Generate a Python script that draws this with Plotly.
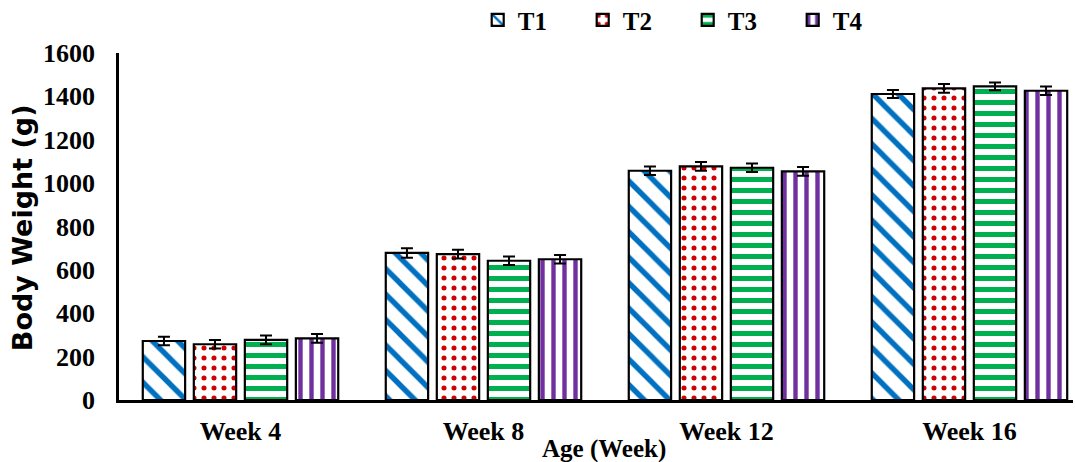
import plotly.graph_objects as go

weeks = ["Week 4", "Week 8", "Week 12", "Week 16"]
series = ["T1", "T2", "T3", "T4"]
t1 = [272, 678, 1057, 1411]
t2 = [257, 673, 1077, 1437]
t3 = [277, 642, 1071, 1446]
t4 = [284, 649, 1054, 1426]
err_t1 = [20, 22, 20, 18]
err_t2 = [20, 20, 20, 20]
err_t3 = [20, 20, 20, 18]
err_t4 = [20, 20, 20, 20]
y_ticks = [0, 200, 400, 600, 800, 1000, 1200, 1400, 1600]

values = [t1, t2, t3, t4]
errors = [err_t1, err_t2, err_t3, err_t4]
styles = [
    dict(shape="\\", fgcolor="#0070C0", size=18, solidity=0.3),
    dict(shape=".", fgcolor="#D00000", size=10, solidity=0.2),
    dict(shape="-", fgcolor="#00B050", size=11, solidity=0.45),
    dict(shape="|", fgcolor="#7030A0", size=11, solidity=0.4),
]

serif = "Liberation Serif, Times New Roman, serif"

fig = go.Figure()
for name, vals, errs, pat in zip(series, values, errors, styles):
    fig.add_trace(go.Bar(
        name=name, x=weeks, y=vals,
        marker=dict(color="white", line=dict(color="black", width=2.2),
                    pattern=dict(bgcolor="white", fillmode="replace", **pat)),
        error_y=dict(type="data", array=errs, visible=True, color="black",
                     thickness=2, width=6),
    ))

fig.update_layout(
    width=1075, height=462,
    margin=dict(l=119, r=2, t=53, b=62, autoexpand=False),
    paper_bgcolor="white", plot_bgcolor="white",
    barmode="group", bargap=0.16, bargroupgap=0.17,
    showlegend=True,
    legend=dict(orientation="h", x=0.376, xanchor="left", y=1.095, yanchor="middle",
                font=dict(family=serif, size=25, color="black", weight="bold"),
                entrywidth=60, entrywidthmode="pixels", traceorder="normal"),
    xaxis=dict(range=[-0.5, 3.426], showline=True, linecolor="black", linewidth=2.5,
               showgrid=False, ticks="", ticklabelstandoff=6,
               tickfont=dict(family=serif, size=26, color="black", weight="bold")),
    yaxis=dict(range=[0, 1600], tickvals=y_ticks, showline=True, linecolor="black",
               linewidth=2.5, showgrid=False, zeroline=False, ticks="",
               ticklabelstandoff=16,
               tickfont=dict(family=serif, size=26, color="black", weight="bold")),
    annotations=[
        dict(text="Age (Week)", x=0.508, y=-0.141, xref="paper", yref="paper",
             xanchor="center", yanchor="middle", showarrow=False,
             font=dict(family=serif, size=25, color="black", weight="bold")),
        dict(text="Body Weight (g)", x=-0.1017, y=0.498, xref="paper", yref="paper",
             xanchor="center", yanchor="middle", showarrow=False, textangle=-90,
             font=dict(family="DejaVu Sans, Verdana, sans-serif", size=27,
                       color="black", weight="bold")),
    ],
)

fig.write_html("out.html", config={"displayModeBar": False},
               post_script="document.body.style.margin='0px';")
